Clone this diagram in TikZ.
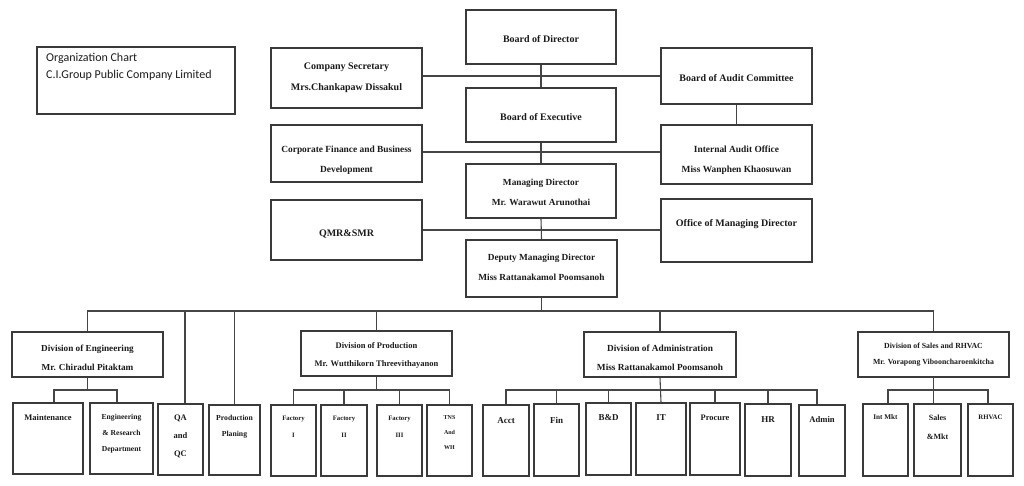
\documentclass[tikz,border=0pt]{standalone}
\usepackage{fontspec}
\setmainfont{Liberation Serif}
\newfontfamily\calfont{Carlito}
\usetikzlibrary{fit}
\definecolor{bordc}{HTML}{3A3A3A}
\definecolor{linec}{HTML}{454545}
\definecolor{txtc}{HTML}{1A1A1A}
\tikzset{
  box/.style={draw=bordc, line width=1.2pt, inner sep=0pt, rectangle},
  txt/.style={inner sep=0pt, align=center, text=txtc},
  conn/.style={draw=linec, line width=1.1pt},
}
\newcommand{\obox}[5]{\node[box, fit={(#2,#3) (#4,#5)}] (#1) {};}
\newcommand{\tx}[5]{\node[txt, font=\fontsize{#4}{#5}\selectfont\bfseries] (#1) at (#2) {#3};}
\begin{document}
\begin{tikzpicture}[x=1pt, y=-1pt]
\useasboundingbox (0,0) rectangle (1024,486);
% ---------- boxes ----------
\obox{title}{37}{47}{235}{114}
\obox{bod}{466}{10}{616}{64}
\obox{cs}{271}{48}{422}{108}
\obox{bac}{661}{48}{812}{104}
\obox{boe}{466}{88}{616}{142}
\obox{cf}{271}{125}{422}{182}
\obox{iao}{661}{125}{812}{184}
\obox{md}{466}{164}{616}{218}
\obox{qmr}{271}{200}{422}{260}
\obox{omd}{661}{199}{812}{262}
\obox{dmd}{466}{240}{617}{297}
\obox{deng}{12}{332}{163}{377}
\obox{dprod}{301}{331}{452}{376}
\obox{dadm}{584}{332}{736}{377}
\obox{dsales}{858}{332}{1009}{377}
\obox{maint}{13}{403}{83}{474}
\obox{erd}{90}{403}{153}{474}
\obox{qa}{158}{404}{203}{475}
\obox{pp}{209}{405}{260}{475}
\obox{fa}{271}{405}{316}{476}
\obox{fb}{321}{405}{367}{476}
\obox{fc}{377}{405}{422}{476}
\obox{tns}{427}{405}{472}{476}
\obox{acct}{483}{405}{529}{476}
\obox{fin}{534}{404}{579}{476}
\obox{bd}{586}{403}{631}{475}
\obox{it}{636}{403}{686}{475}
\obox{proc}{690}{403}{740}{475}
\obox{hr}{745}{404}{791}{476}
\obox{adm}{799}{405}{845}{476}
\obox{intm}{863}{404}{908}{476}
\obox{smkt}{914}{404}{961}{476}
\obox{rhv}{968}{404}{1013}{476}
% ---------- texts ----------
\node[inner sep=0pt, anchor=north west, align=left, text=txtc, font=\calfont\fontsize{12}{16.5}\selectfont] (title-t) at (46,53) {Organization Chart\\C.I.Group Public Company Limited};
\tx{bod-t}{541,39}{Board of Director}{10}{20}
\tx{cs-t}{346.5,77.5}{Company Secretary\\Mrs.Chankapaw Dissakul}{10}{21}
\tx{bac-t}{736.5,78}{Board of Audit Committee}{10}{20}
\tx{boe-t}{541,117}{Board of Executive}{10}{20}
\tx{cf-t}{346.5,160}{Corporate Finance and Business\\Development}{9.4}{20}
\tx{iao-t}{736.5,160}{Internal Audit Office\\Miss Wanphen Khaosuwan}{9.4}{20}
\tx{md-t}{541,192}{Managing Director\\Mr. Warawut Arunothai}{9.3}{20}
\tx{qmr-t}{346.5,234}{QMR\&SMR}{10}{20}
\tx{omd-t}{736.5,224}{Office of Managing Director}{10}{20}
\tx{dmd-t}{541.5,267}{Deputy Managing Director\\Miss Rattanakamol Poomsanoh}{9.3}{20}
\tx{deng-t}{87.5,357.5}{Division of Engineering\\Mr. Chiradul Pitaktam}{9.2}{19}
\tx{dprod-t}{376.5,355}{Division of Production\\Mr. Wutthikorn Threevithayanon}{8.5}{18}
\tx{dadm-t}{660,357.5}{Division of Administration\\Miss Rattanakamol Poomsanoh}{9.3}{19}
\tx{dsales-t}{933.5,355}{Division of Sales and RHVAC\\Mr. Vorapong Vibooncharoenkitcha}{7.8}{16}
\tx{maint-t}{48,418}{Maintenance}{8.5}{16}
\tx{erd-t}{121.5,434}{Engineering\\\& Research\\Department}{7.6}{16}
\tx{qa-t}{180.5,436}{QA\\and\\QC}{8.5}{18}
\tx{pp-t}{234.5,427}{Production\\Planing}{7.7}{16}
\tx{fa-t}{293.5,426.5}{Factory\\I}{6.7}{17}
\tx{fb-t}{344,426.5}{Factory\\II}{6.7}{17}
\tx{fc-t}{399.5,426.5}{Factory\\III}{6.7}{17}
\tx{tns-t}{449.5,433}{TNS\\And\\WH}{6}{15}
\tx{acct-t}{506,421}{Acct}{9}{16}
\tx{fin-t}{556.5,420}{Fin}{9}{16}
\tx{bd-t}{608.5,418}{B\&D}{9}{16}
\tx{it-t}{661,418}{IT}{9}{16}
\tx{proc-t}{715,418}{Procure}{8.4}{16}
\tx{hr-t}{768,420}{HR}{9}{16}
\tx{adm-t}{822,420}{Admin}{8.6}{16}
\tx{intm-t}{885.5,417}{Int Mkt}{7.2}{16}
\tx{smkt-t}{937.5,427.5}{Sales\\\&Mkt}{8}{19}
\tx{rhv-t}{990.5,417}{RHVAC}{6.8}{16}
% ---------- connector coordinates ----------
\coordinate (l1) at (541,76);
\coordinate (l2) at (541,152);
\coordinate (l3) at (541,230);
\coordinate (bus) at (541,311);
\coordinate (sub) at (541,390);
% ---------- connectors ----------
\draw[conn] (bod.south) -- (boe.north);
\draw[conn] (cs.east |- l1) -- (bac.west |- l1);
\draw[conn] (boe.south) -- (md.north);
\draw[conn] (bac.south) -- (iao.north);
\draw[conn] (cf.east |- l2) -- (iao.west |- l2);
\draw[conn] (md.south) -- (dmd.north);
\draw[conn] (qmr.east |- l3) -- (omd.west |- l3);
\draw[conn] (dmd.south) -- (dmd.south |- bus);
\draw[conn] (deng.north) |- (dsales.north |- bus) -- (dsales.north);
\draw[conn] ([xshift=4.5pt]qa.north |- bus) -- ([xshift=4.5pt]qa.north);
\draw[conn] (pp.north |- bus) -- (pp.north);
\draw[conn] (dprod.north |- bus) -- (dprod.north);
\draw[conn] (dadm.north |- bus) -- (dadm.north);
% engineering
\draw[conn] (deng.south) -- (deng.south |- sub);
\draw[conn] ([xshift=6pt]maint.north) |- ([xshift=-4.5pt]erd.north |- sub) -- ([xshift=-4.5pt]erd.north);
% production
\draw[conn] (dprod.south) -- (dprod.south |- sub);
\draw[conn] (fa.north) |- (tns.north |- sub) -- (tns.north);
\draw[conn] (fb.north |- sub) -- (fb.north);
\draw[conn] (fc.north |- sub) -- (fc.north);
% administration
\draw[conn] (dadm.south) -- (it.north);
\draw[conn] (acct.north) |- ([xshift=-5pt]adm.north |- sub) -- ([xshift=-5pt]adm.north);
\draw[conn] (fin.north |- sub) -- (fin.north);
\draw[conn] (bd.north |- sub) -- (bd.north);
\draw[conn] (proc.north |- sub) -- (proc.north);
\draw[conn] (hr.north |- sub) -- (hr.north);
% sales
\draw[conn] (dsales.south) -- (dsales.south |- smkt.north);
\draw[conn] ([xshift=2.5pt]intm.north) |- ([xshift=-2.5pt]rhv.north |- sub) -- ([xshift=-2.5pt]rhv.north);
\end{tikzpicture}
\end{document}
